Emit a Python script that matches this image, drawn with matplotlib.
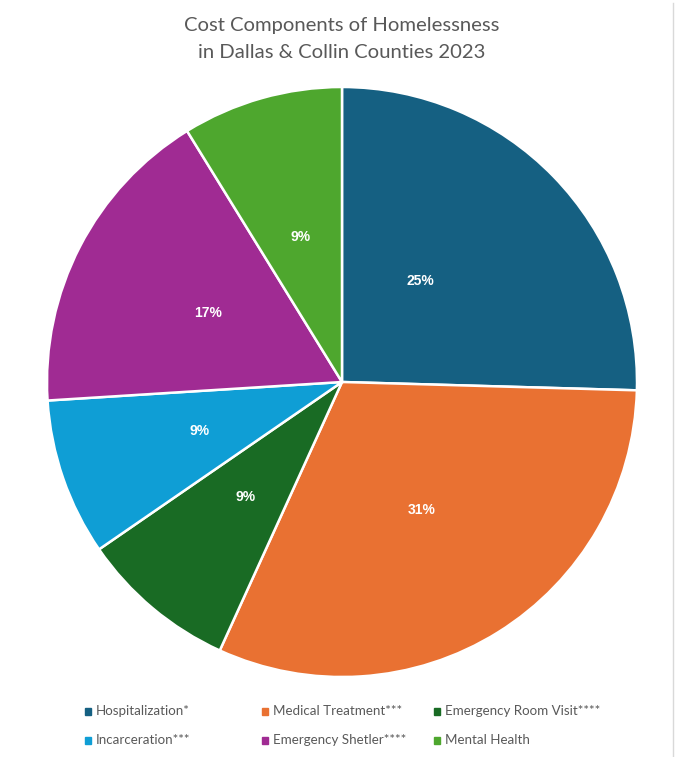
import matplotlib.pyplot as plt
from matplotlib.lines import Line2D
from matplotlib.patches import Rectangle

categories = ['Hospitalization*', 'Medical Treatment***', 'Emergency Room Visit****',
              'Incarceration***', 'Emergency Shetler****', 'Mental Health']
shares = [25.45, 31.35, 8.6, 8.6, 17.2, 8.8]
colors = ['#156082', '#E97132', '#196B24', '#0F9ED5', '#A02B93', '#4EA72E']

TXT = '#595959'
plt.rcParams['font.family'] = ['Lato', 'DejaVu Sans']

fig = plt.figure(figsize=(6.76, 7.57), dpi=100)
W, H = 676, 757
cx, cy, r = 342, 382, 295
ax = fig.add_axes([(cx - r) / W, (H - cy - r) / H, 2 * r / W, 2 * r / H])

wedges, texts, pct = ax.pie(shares, colors=colors, startangle=90, counterclock=False,
                            autopct='%.0f%%', pctdistance=0.51,
                            wedgeprops=dict(edgecolor='white', linewidth=1.8),
                            textprops=dict(color='white', fontsize=10, fontweight='bold',
                                           family='Liberation Sans'))
# excel puts the first label a bit off the wedge middle
pct[0].set_position((0.265, 0.342))
ax.set_xlim(-1, 1)
ax.set_ylim(-1, 1)
ax.set_aspect('equal')
ax.axis('off')

fig.text(cx / W, 1 - 26 / H, 'Cost Components of Homelessness', ha='center', va='center',
         fontsize=14.6, color=TXT)
fig.text(cx / W, 1 - 53 / H, 'in Dallas & Collin Counties 2023', ha='center', va='center',
         fontsize=14.6, color=TXT)

# legend laid out in rows of three
col_x = [88, 265, 437]
row_y = [711, 740]
for i, (lab, c) in enumerate(zip(categories, colors)):
    px = col_x[i % 3]
    py = row_y[i // 3]
    fig.patches.append(Rectangle(((px - 3) / W, 1 - (py + 3.5) / H), 6 / W, 7 / H,
                                 transform=fig.transFigure, color=c))
    fig.text((px + 8) / W, 1 - py / H, lab, ha='left', va='center', fontsize=9.6, color=TXT)

fig.lines.append(Line2D([672.5 / W, 672.5 / W], [0, 1 - 3 / H], transform=fig.transFigure,
                        color='#d9d9d9', linewidth=1))

fig.savefig('out.png', dpi=100, facecolor='white')
